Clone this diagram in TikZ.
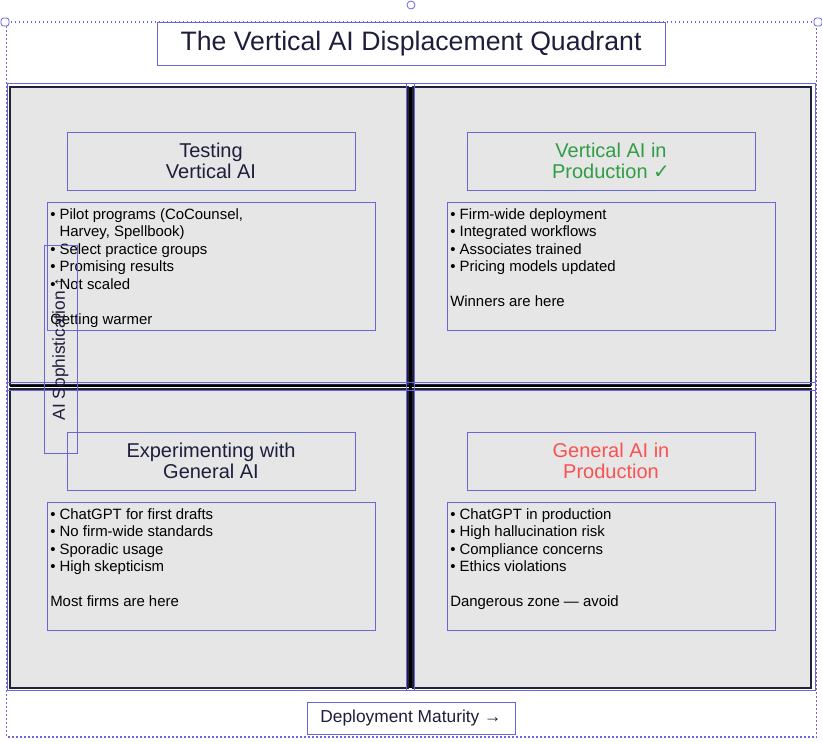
\documentclass[tikz,border=0pt]{standalone}
\usepackage{fontspec}
\setmainfont{Liberation Sans}
\newfontfamily\symfont{DejaVu Sans}
\usetikzlibrary{calc}

\definecolor{selblue}{HTML}{6965DB}
\definecolor{quadfill}{HTML}{E6E6E6}
\definecolor{quadline}{HTML}{1E2336}
\definecolor{inkblue}{HTML}{1E1E3C}
\definecolor{okgreen}{HTML}{2F9E44}
\definecolor{badred}{HTML}{FA5252}

\begin{document}
\begin{tikzpicture}[
        x=0.75pt, y=-0.75pt,
        sel/.style={draw=selblue, line width=0.6pt},
        seldots/.style={draw=selblue, line width=0.9pt, dash pattern=on 1.2pt off 1.8pt},
        handle/.style={draw=selblue, fill=white, line width=0.6pt},
        quad/.style={draw=quadline, fill=quadfill, line width=1.6pt},
        divider/.style={draw=black, line width=2.2pt},
        headbox/.style={sel, minimum width=216pt, minimum height=43.5pt, align=center,
          text=inkblue, font=\fontsize{15}{15.75}\selectfont},
        bodytext/.style={anchor=north west, align=left, inner sep=0pt,
          font=\fontsize{11.2}{13.125}\selectfont},
        labelbox/.style={sel, text=inkblue, font=\fontsize{13}{15}\selectfont}
      ]

      \useasboundingbox (0,0) rectangle (822,742);

      % group selection around everything
      \draw[seldots] (6.5,22) -- (816.5,22) -- (816.5,737) -- (6.5,737) -- cycle;
      \draw[handle, rounded corners=2pt] (1,18) rectangle (9,26);
      \draw[handle, rounded corners=2pt] (814,18) rectangle (822,26);
      \draw[handle] (411,5) circle (3pt);

      % title
      \node[sel, minimum width=381pt, minimum height=32.25pt, text=inkblue,
        font=\fontsize{20}{24}\selectfont] (title) at (411,43.5)
        {The Vertical AI Displacement Quadrant};

      % the four quadrants
      \foreach \xa/\ya/\xb/\yb in {10/87/408/385, 413/87/811/385,
        10/389/408/688, 413/389/811/688} {
        \draw[quad] (\xa,\ya) rectangle (\xb,\yb);
      }
      \draw[sel] (7,83) rectangle (815,690);

      % axis dividers
      \coordinate (vtop) at (410.5,87);
      \coordinate (vbot) at (410.5,688);
      \coordinate (hleft) at (10,386);
      \coordinate (hright) at (811,386);
      \draw[divider] (vtop) -- (vbot);
      \draw[divider] (hleft) -- (hright);
      \draw[sel] (406.5,83) rectangle (414.5,690);
      \draw[sel] (7,382.5) rectangle (815,390);

      % top left
      \node[headbox] (testing) at (211,161) {Testing\\Vertical AI};
      \draw[sel] (47,202) rectangle (375,330);
      \node[bodytext] (testingnotes) at (50,208) {%
        • Pilot programs (CoCounsel,\\
        \phantom{• }Harvey, Spellbook)\\
        • Select practice groups\\
        • Promising results\\
        • Not scaled\\[13.125pt]
        Getting warmer};

      % top right
      \node[headbox, text=okgreen] (vertprod) at (611,161)
        {Vertical AI in\\Production {\symfont ✓}};
      \draw[sel] (447,202) rectangle (775,330);
      \node[bodytext] (vertprodnotes) at (450,208) {%
        • Firm-wide deployment\\
        • Integrated workflows\\
        • Associates trained\\
        • Pricing models updated\\[13.125pt]
        Winners are here};

      % bottom left
      \node[headbox] (experimenting) at (211,461) {Experimenting with\\General AI};
      \draw[sel] (47,502) rectangle (375,630);
      \node[bodytext] (experimentingnotes) at (50,508) {%
        • ChatGPT for first drafts\\
        • No firm-wide standards\\
        • Sporadic usage\\
        • High skepticism\\[13.125pt]
        Most firms are here};

      % bottom right
      \node[headbox, text=badred] (genprod) at (611,461) {General AI in\\Production};
      \draw[sel] (447,502) rectangle (775,630);
      \node[bodytext] (genprodnotes) at (450,508) {%
        • ChatGPT in production\\
        • High hallucination risk\\
        • Compliance concerns\\
        • Ethics violations\\[13.125pt]
        Dangerous zone — avoid};

      % axis labels
      \node[labelbox, rotate=90, minimum width=156pt, minimum height=24.75pt]
        (yaxis) at (60.5,349) {AI Sophistication ↑};
      \node[labelbox, minimum width=156pt, minimum height=24pt]
        (xaxis) at (411,718.5) {Deployment Maturity →};

    \end{tikzpicture}
\end{document}
